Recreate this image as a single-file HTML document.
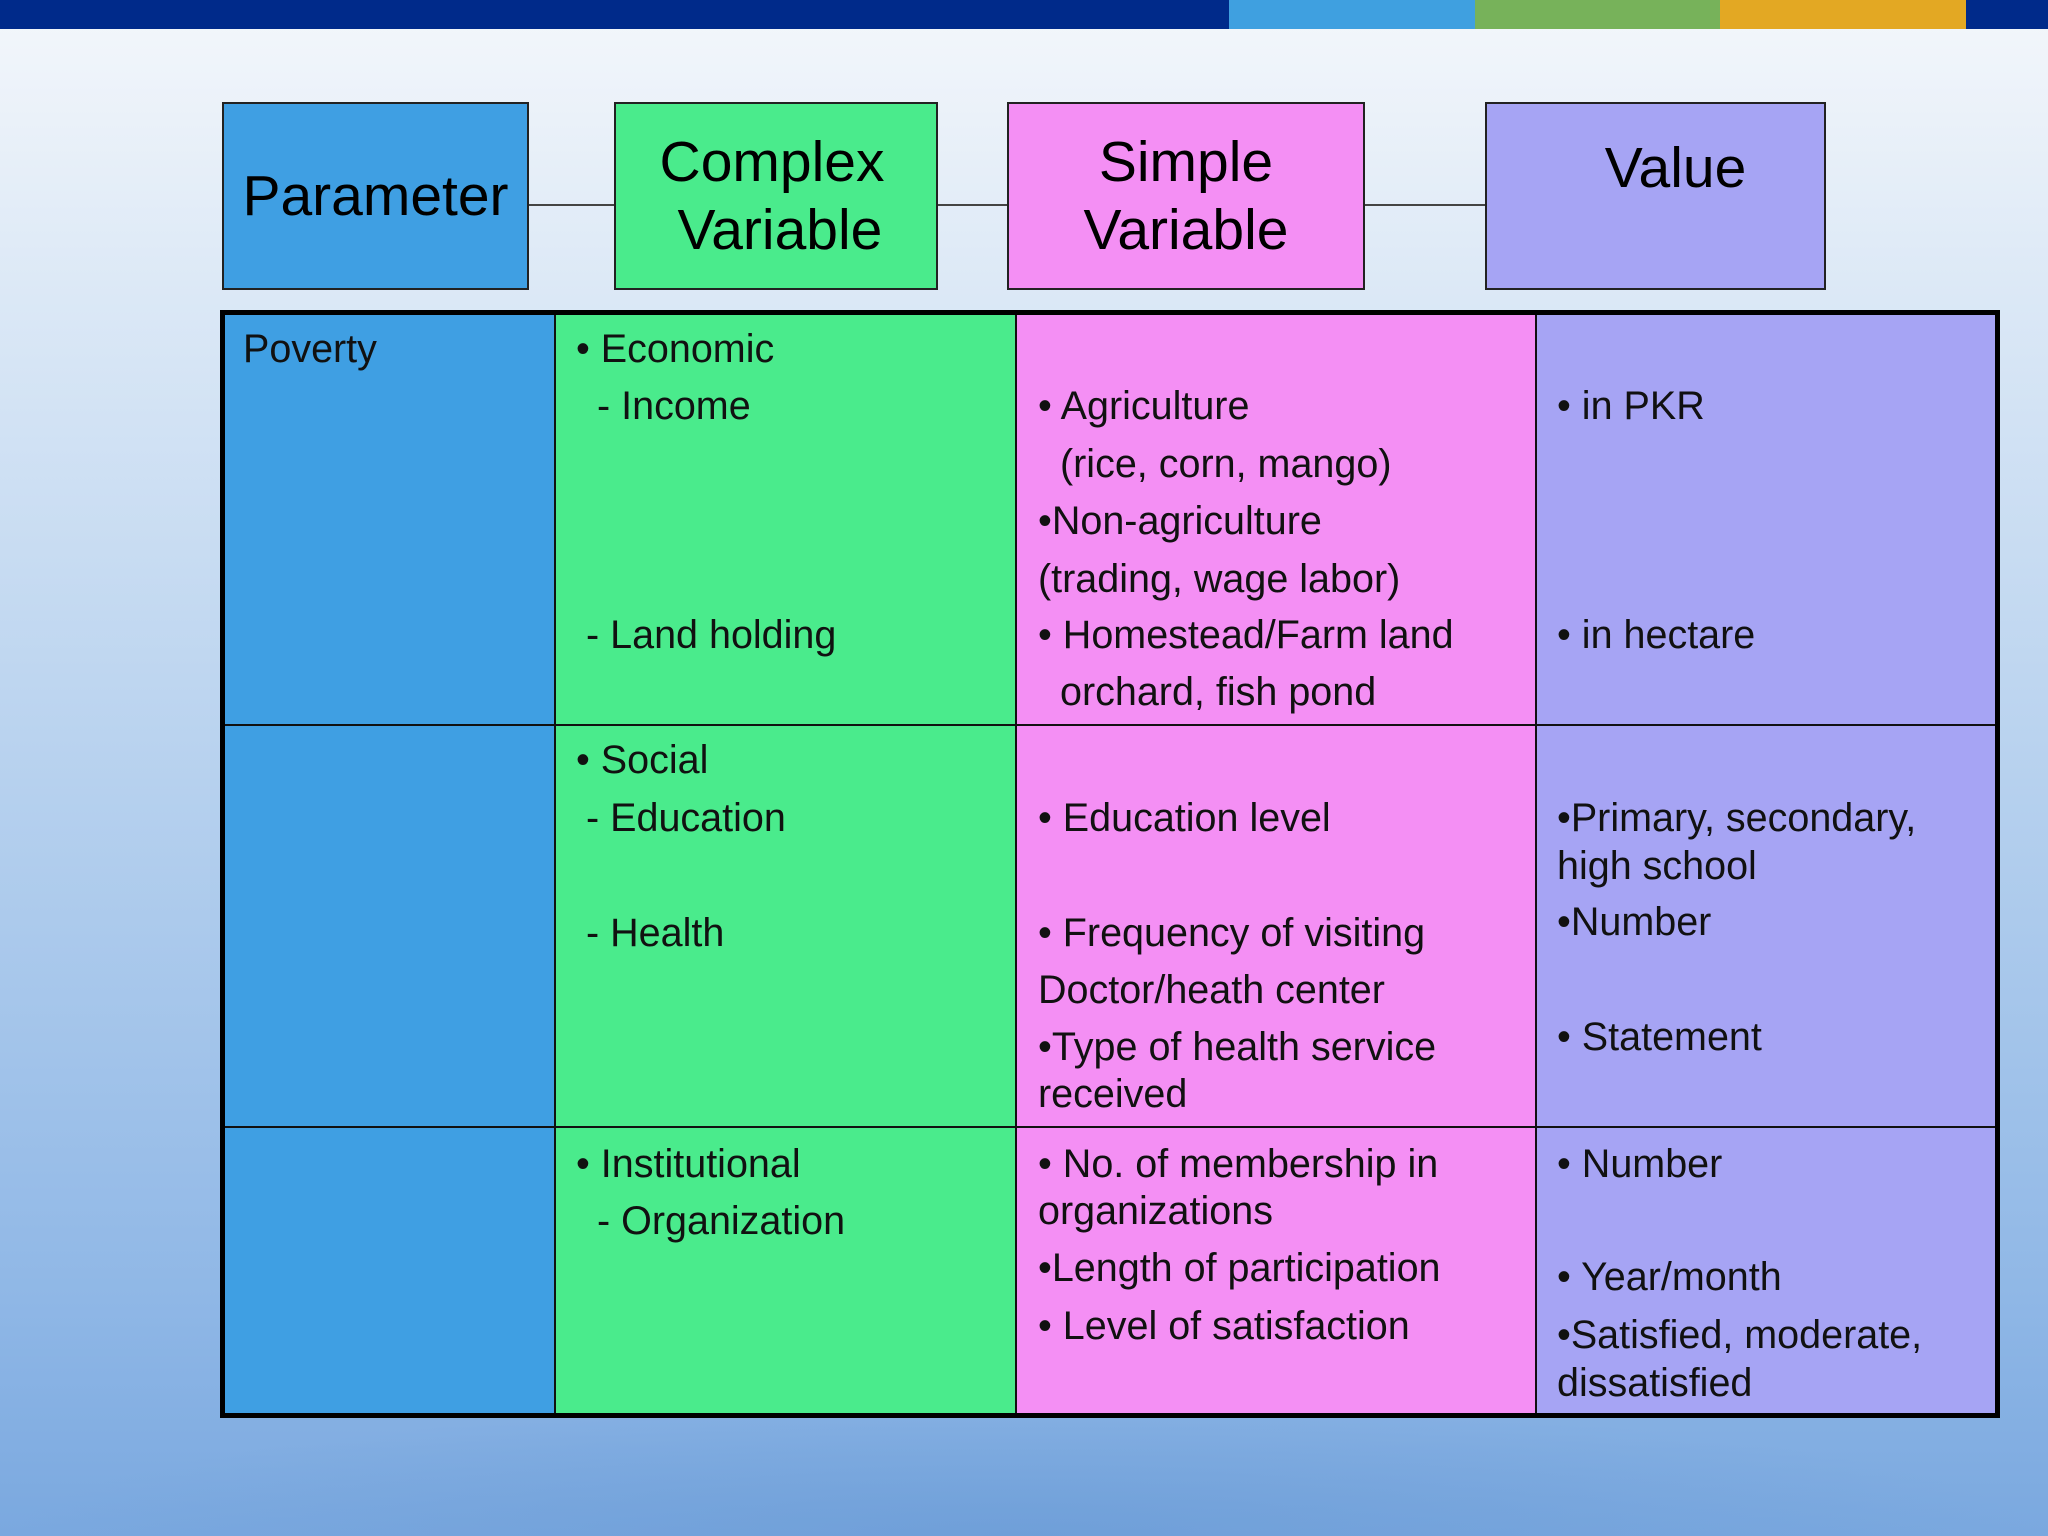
<!DOCTYPE html>
<html><head><meta charset="utf-8"><style>
*{margin:0;padding:0;box-sizing:border-box}
body{width:2048px;height:1536px;position:relative;overflow:hidden;font-family:"Liberation Sans",sans-serif;
background:linear-gradient(to bottom,#f4f7fb 0px,#dbe8f6 300px,#b5d0ee 800px,#8fb7e6 1300px,#7aa8df 1536px);}
.bar{position:absolute;top:0;height:29px}
.hb{position:absolute;top:102px;height:188px;border:2px solid #222;display:flex;align-items:center;justify-content:center;text-align:center;font-size:57px;line-height:68px;color:#000}
.ln{position:absolute;top:204px;height:2px;background:#444}
.cell{position:absolute}
.t{position:absolute;font-size:39.5px;line-height:44px;white-space:nowrap;color:#111}
</style></head><body>
<div class="cell" style="left:0;top:1400px;width:2048px;height:136px;background:radial-gradient(ellipse at 50% 100%,rgba(100,150,210,0.5),rgba(100,150,210,0) 70%)"></div>
<div class="bar" style="left:0;width:1229px;background:#002a8a"></div>
<div class="bar" style="left:1229px;width:246px;background:#3fa0e0"></div>
<div class="bar" style="left:1475px;width:245px;background:#77b25a"></div>
<div class="bar" style="left:1720px;width:246px;background:#e3a823"></div>
<div class="bar" style="left:1966px;width:82px;background:#002a8a"></div>

<div class="ln" style="left:529px;width:85px"></div>
<div class="ln" style="left:938px;width:69px"></div>
<div class="ln" style="left:1365px;width:120px"></div>
<div class="hb" style="left:222px;width:307px;background:#3f9fe3">Parameter</div>
<div class="hb" style="left:614px;width:324px;background:#4aeb8c;padding-right:8px">Complex<br>&nbsp;Variable</div>
<div class="hb" style="left:1007px;width:358px;background:#f48ff4">Simple<br>Variable</div>
<div class="hb" style="left:1485px;width:341px;background:#a6a4f4;align-items:flex-start;padding-top:30px;padding-left:40px">Value</div>

<div class="cell" style="left:222px;top:312px;width:333px;height:1104px;background:#3f9fe3"></div>
<div class="cell" style="left:555px;top:312px;width:461px;height:1104px;background:#4aeb8c"></div>
<div class="cell" style="left:1016px;top:312px;width:520px;height:1104px;background:#f48ff4"></div>
<div class="cell" style="left:1536px;top:312px;width:462px;height:1104px;background:#a6a4f4"></div>
<div class="cell" style="left:554px;top:312px;width:2px;height:1104px;background:#111"></div>
<div class="cell" style="left:1015px;top:312px;width:2px;height:1104px;background:#111"></div>
<div class="cell" style="left:1535px;top:312px;width:2px;height:1104px;background:#111"></div>
<div class="cell" style="left:222px;top:724px;width:1776px;height:2px;background:#111"></div>
<div class="cell" style="left:222px;top:1126px;width:1776px;height:2px;background:#111"></div>
<div class="cell" style="left:220px;top:310px;width:1780px;height:1108px;border:5px solid #000"></div>

<div class="t" style="left:243px;top:327px">Poverty</div>

<div class="t" style="left:576px;top:327px">• Economic</div>
<div class="t" style="left:597px;top:384px">- Income</div>
<div class="t" style="left:586px;top:613px">- Land holding</div>
<div class="t" style="left:576px;top:738px">• Social</div>
<div class="t" style="left:586px;top:796px">- Education</div>
<div class="t" style="left:586px;top:911px">- Health</div>
<div class="t" style="left:576px;top:1142px">• Institutional</div>
<div class="t" style="left:597px;top:1199px">- Organization</div>

<div class="t" style="left:1038px;top:384px">• Agriculture</div>
<div class="t" style="left:1060px;top:442px">(rice, corn, mango)</div>
<div class="t" style="left:1038px;top:499px">•Non-agriculture</div>
<div class="t" style="left:1038px;top:557px">(trading, wage labor)</div>
<div class="t" style="left:1038px;top:613px">• Homestead/Farm land</div>
<div class="t" style="left:1060px;top:670px">orchard, fish pond</div>
<div class="t" style="left:1038px;top:796px">• Education level</div>
<div class="t" style="left:1038px;top:911px">• Frequency of visiting</div>
<div class="t" style="left:1038px;top:968px">Doctor/heath center</div>
<div class="t" style="left:1038px;top:1025px">•Type of health service</div>
<div class="t" style="left:1038px;top:1072px">received</div>
<div class="t" style="left:1038px;top:1142px">• No. of membership in</div>
<div class="t" style="left:1038px;top:1189px">organizations</div>
<div class="t" style="left:1038px;top:1246px">•Length of participation</div>
<div class="t" style="left:1038px;top:1304px">• Level of satisfaction</div>

<div class="t" style="left:1557px;top:384px">• in PKR</div>
<div class="t" style="left:1557px;top:613px">• in hectare</div>
<div class="t" style="left:1557px;top:796px">•Primary, secondary,</div>
<div class="t" style="left:1557px;top:844px">high school</div>
<div class="t" style="left:1557px;top:900px">•Number</div>
<div class="t" style="left:1557px;top:1015px">• Statement</div>
<div class="t" style="left:1557px;top:1142px">• Number</div>
<div class="t" style="left:1557px;top:1255px">• Year/month</div>
<div class="t" style="left:1557px;top:1313px">•Satisfied, moderate,</div>
<div class="t" style="left:1557px;top:1361px">dissatisfied</div>
</body></html>
